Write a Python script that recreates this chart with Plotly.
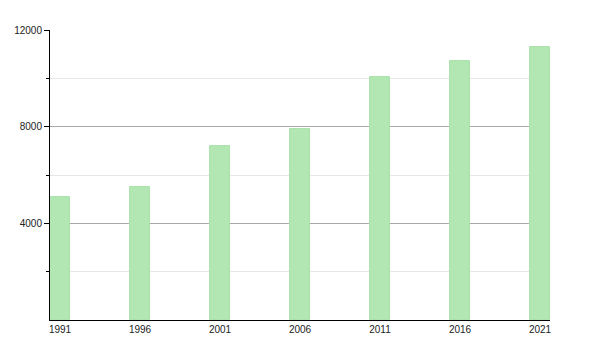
import plotly.graph_objects as go

years = [1991, 1996, 2001, 2006, 2011, 2016, 2021]
population = [5110, 5510, 7210, 7910, 10070, 10700, 11290]
y_major = [4000, 8000, 12000]
y_minor = [2000, 6000, 10000]

fig = go.Figure(go.Bar(
    x=years, y=population, width=1.25,
    marker=dict(color="rgb(178,230,178)", line=dict(color="rgb(172,226,172)", width=1)),
))

fig.update_layout(
    width=600, height=350,
    margin=dict(l=50, r=50, t=30, b=30),
    paper_bgcolor="white", plot_bgcolor="white",
    font=dict(family="Liberation Sans, Arial, sans-serif", size=10, color="#222"),
    showlegend=False,
    bargap=0,
)
fig.update_xaxes(
    range=[1990.375, 2021.625], tickvals=years, ticktext=[str(y) for y in years],
    showgrid=False, zeroline=False, showline=True, linecolor="black", linewidth=1,
    ticks="", fixedrange=True,
)
fig.update_yaxes(
    range=[0, 12000], tickvals=y_major, ticktext=[str(v) for v in y_major],
    showgrid=True, gridcolor="#aaaaaa", gridwidth=1,
    zeroline=False, showline=True, linecolor="black", linewidth=1,
    ticks="outside", ticklen=5, tickcolor="black",
    minor=dict(tickvals=y_minor, ticks="outside", ticklen=3, tickcolor="black",
               showgrid=True, gridcolor="#e6e6e6", gridwidth=1),
    layer="below traces",
)
fig.write_html("out.html")
